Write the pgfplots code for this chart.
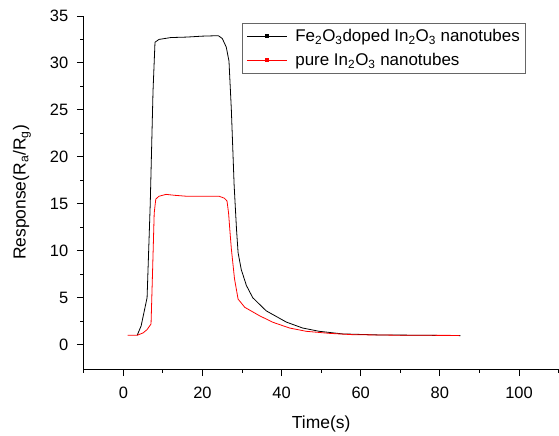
\documentclass[border=0pt]{standalone}
\usepackage{fontspec}
\setmainfont{Liberation Sans}
\usepackage{pgfplots}
\pgfplotsset{compat=1.18}
\begin{document}
\begin{tikzpicture}[x=1pt,y=1pt]
\begin{axis}[
  scale only axis,
  width=476pt, height=354pt,
  xmin=-10, xmax=110,
  ymin=-2.6, ymax=35,
  axis x line=bottom, axis y line=left,
  axis line style={-, line width=0.9pt},
  xtick={0,20,...,100},
  minor xtick={-10,10,30,50,70,90,110},
  ytick={0,5,...,35},
  minor ytick={2.5,7.5,...,32.5},
  tick align=outside,
  major tick length=7pt, minor tick length=3.5pt,
  tick style={line width=0.9pt, black},
  /pgf/number format/assume math mode=true,
  ticklabel style={font=\fontsize{16.5}{18}\selectfont},
  xticklabel style={yshift=-7pt},
  yticklabel style={xshift=-5pt},
  xlabel={Time(s)},
  ylabel={Response(R\textsubscript{a}/R\textsubscript{g})},
  every axis x label/.style={at={(axis description cs:0.5,0)}, yshift=-59.5pt, anchor=base, font=\fontsize{17.5}{19}\selectfont},
  every axis y label/.style={at={(axis description cs:0,0.5)}, xshift=-62pt, anchor=center, rotate=90, font=\fontsize{17.5}{19}\selectfont},
  legend style={at={(0.334,0.98)}, anchor=north west, draw=gray!80!black, line width=0.8pt,
    font=\fontsize{17}{19}\selectfont, row sep=6pt, inner xsep=4pt, inner ysep=4pt},
  legend cell align=left,
  legend image code/.code={
    \draw[#1, line width=0.7pt] (0pt,0pt) -- (40pt,0pt);
    \fill[#1] (18.5pt,-1.5pt) rectangle (21.5pt,1.5pt);
    \path (46pt,0pt);
  },
]
\coordinate (bl) at (rel axis cs:0,0);
\coordinate (tr) at (rel axis cs:1,1);
\addplot[black, line width=0.8pt] coordinates {
 (3.5,1.0) (4.5,2.0) (6,5.0) (6.8,15) (7.5,27) (8,32.2) (9,32.5) (12,32.7) (16,32.75) (20,32.85) (24,32.9) (25,32.6) (26,31.7) (26.7,30.2) (27.3,25) (28,17) (28.6,12.3) (29,9.8) (29.8,8.0) (31.1,6.3) (32.7,5.0) (36.1,3.6) (41.2,2.4) (45.3,1.77) (49.5,1.42) (55.4,1.14) (64.7,1.03) (75,1.0) (85.2,0.96)
};
\addlegendentry{Fe\textsubscript{2}O\textsubscript{3}doped In\textsubscript{2}O\textsubscript{3} nanotubes}
\addplot[red, line width=0.8pt] coordinates {
 (1.1,1.0) (3.5,1.0) (5,1.25) (6,1.6) (7,2.2) (7.4,8) (7.8,14) (8.2,15.5) (9,15.8) (10.8,16.0) (13,15.9) (16,15.8) (20,15.8) (24.2,15.8) (25.5,15.6) (26.2,15.3) (26.6,14) (26.9,12.3) (27.3,10.2) (28.1,7.0) (29.0,4.85) (30.7,3.97) (34.4,3.08) (37.8,2.38) (42,1.77) (46.2,1.42) (52.1,1.2) (58,1.06) (70,1.0) (85,0.98)
};
\addlegendentry{pure In\textsubscript{2}O\textsubscript{3} nanotubes}
\end{axis}
\path (bl) ++(-84pt,-64pt);
\path (tr) ++(0pt,16pt);
\end{tikzpicture}
\end{document}
